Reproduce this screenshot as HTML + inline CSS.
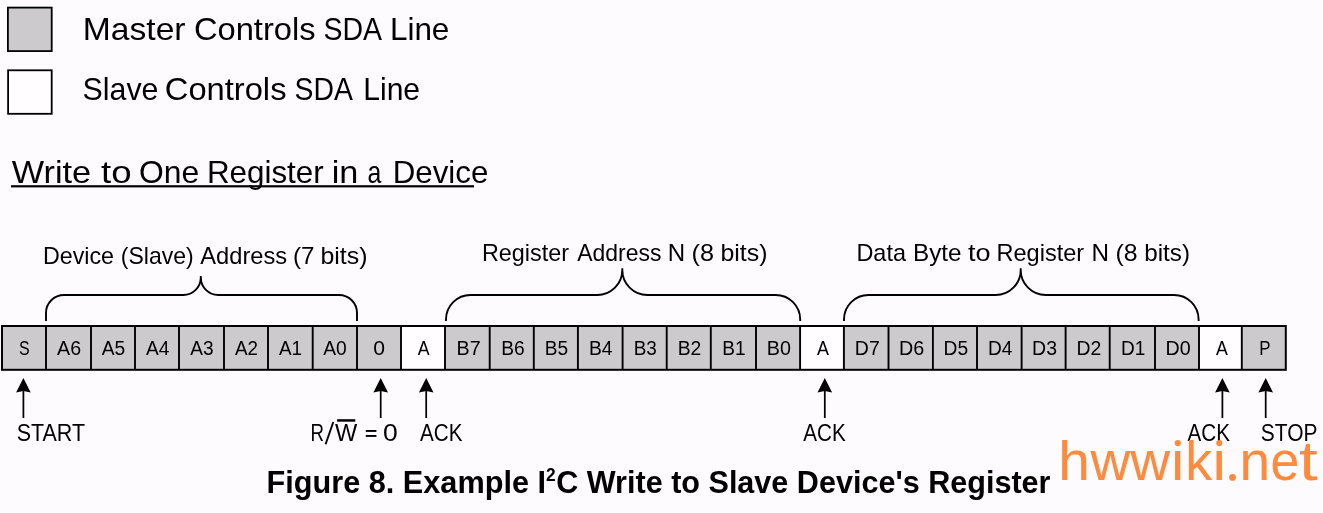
<!DOCTYPE html>
<html><head><meta charset="utf-8"><style>
html,body{margin:0;padding:0;background:#fdfbfd;width:1323px;height:513px;overflow:hidden}
svg{display:block;will-change:transform}
text{font-family:"Liberation Sans",sans-serif;fill:#000}
.c{font-size:19.7px}
</style></head><body>
<svg width="1323" height="513" viewBox="0 0 1323 513">
<rect x="7.9" y="7.6" width="43.8" height="43.5" fill="#cccacd" stroke="#000" stroke-width="1.8"/>
<rect x="8.1" y="70.3" width="43.6" height="43.5" fill="#fffdff" stroke="#000" stroke-width="1.8"/>
<rect x="11" y="185.2" width="463" height="2.2" fill="#000"/>
<path d="M46 321 L46 313 A18 18 0 0 1 64 295 L183.3 295 A17.5 17.5 0 0 0 200.8 277.5 L200.8 276 L200.8 277.5 A17.5 17.5 0 0 0 218.3 295 L339 295 A18 18 0 0 1 357 313 L357 321" fill="none" stroke="#000" stroke-width="1.9"/>
<path d="M446 321 L446 319.5 A24.5 24.5 0 0 1 470.5 295 L597.3 295 A25 25 0 0 0 622.3 270 L622.3 268.3 L622.3 270 A25 25 0 0 0 647.3 295 L775.7 295 A24.5 24.5 0 0 1 800.2 319.5 L800.2 321" fill="none" stroke="#000" stroke-width="1.9"/>
<path d="M844 321 L844 319.5 A24.5 24.5 0 0 1 868.5 295 L995.7 295 A25 25 0 0 0 1020.7 270 L1020.7 268.3 L1020.7 270 A25 25 0 0 0 1045.7 295 L1174.1 295 A24.5 24.5 0 0 1 1198.6 319.5 L1198.6 321" fill="none" stroke="#000" stroke-width="1.9"/>
<rect x="2.0" y="326" width="44.00" height="44" fill="#cccacd"/>
<rect x="46" y="326" width="45.00" height="44" fill="#cccacd"/>
<rect x="91" y="326" width="44.00" height="44" fill="#cccacd"/>
<rect x="135" y="326" width="44.00" height="44" fill="#cccacd"/>
<rect x="179" y="326" width="45.00" height="44" fill="#cccacd"/>
<rect x="224" y="326" width="44.00" height="44" fill="#cccacd"/>
<rect x="268" y="326" width="44.70" height="44" fill="#cccacd"/>
<rect x="312.7" y="326" width="44.30" height="44" fill="#cccacd"/>
<rect x="357" y="326" width="44.00" height="44" fill="#cccacd"/>
<rect x="401" y="326" width="44.00" height="44" fill="#fffdff"/>
<rect x="445" y="326" width="44.70" height="44" fill="#cccacd"/>
<rect x="489.7" y="326" width="44.10" height="44" fill="#cccacd"/>
<rect x="533.8" y="326" width="44.10" height="44" fill="#cccacd"/>
<rect x="577.9" y="326" width="44.70" height="44" fill="#cccacd"/>
<rect x="622.6" y="326" width="44.10" height="44" fill="#cccacd"/>
<rect x="666.7" y="326" width="44.10" height="44" fill="#cccacd"/>
<rect x="710.8" y="326" width="45.20" height="44" fill="#cccacd"/>
<rect x="756" y="326" width="44.10" height="44" fill="#cccacd"/>
<rect x="800.1" y="326" width="43.80" height="44" fill="#fffdff"/>
<rect x="843.9" y="326" width="44.60" height="44" fill="#cccacd"/>
<rect x="888.5" y="326" width="44.40" height="44" fill="#cccacd"/>
<rect x="932.9" y="326" width="44.10" height="44" fill="#cccacd"/>
<rect x="977" y="326" width="44.60" height="44" fill="#cccacd"/>
<rect x="1021.6" y="326" width="44.00" height="44" fill="#cccacd"/>
<rect x="1065.6" y="326" width="44.10" height="44" fill="#cccacd"/>
<rect x="1109.7" y="326" width="45.30" height="44" fill="#cccacd"/>
<rect x="1155" y="326" width="44.00" height="44" fill="#cccacd"/>
<rect x="1199" y="326" width="42.80" height="44" fill="#fffdff"/>
<rect x="1241.8" y="326" width="44.00" height="44" fill="#cccacd"/>
<rect x="2" y="326" width="1283.8" height="43.8" fill="none" stroke="#000" stroke-width="2"/>
<line x1="46" y1="326" x2="46" y2="370" stroke="#000" stroke-width="1.9"/>
<line x1="91" y1="326" x2="91" y2="370" stroke="#000" stroke-width="1.9"/>
<line x1="135" y1="326" x2="135" y2="370" stroke="#000" stroke-width="1.9"/>
<line x1="179" y1="326" x2="179" y2="370" stroke="#000" stroke-width="1.9"/>
<line x1="224" y1="326" x2="224" y2="370" stroke="#000" stroke-width="1.9"/>
<line x1="268" y1="326" x2="268" y2="370" stroke="#000" stroke-width="1.9"/>
<line x1="312.7" y1="326" x2="312.7" y2="370" stroke="#000" stroke-width="1.9"/>
<line x1="357" y1="326" x2="357" y2="370" stroke="#000" stroke-width="1.9"/>
<line x1="401" y1="326" x2="401" y2="370" stroke="#000" stroke-width="1.9"/>
<line x1="445" y1="326" x2="445" y2="370" stroke="#000" stroke-width="1.9"/>
<line x1="489.7" y1="326" x2="489.7" y2="370" stroke="#000" stroke-width="1.9"/>
<line x1="533.8" y1="326" x2="533.8" y2="370" stroke="#000" stroke-width="1.9"/>
<line x1="577.9" y1="326" x2="577.9" y2="370" stroke="#000" stroke-width="1.9"/>
<line x1="622.6" y1="326" x2="622.6" y2="370" stroke="#000" stroke-width="1.9"/>
<line x1="666.7" y1="326" x2="666.7" y2="370" stroke="#000" stroke-width="1.9"/>
<line x1="710.8" y1="326" x2="710.8" y2="370" stroke="#000" stroke-width="1.9"/>
<line x1="756" y1="326" x2="756" y2="370" stroke="#000" stroke-width="1.9"/>
<line x1="800.1" y1="326" x2="800.1" y2="370" stroke="#000" stroke-width="1.9"/>
<line x1="843.9" y1="326" x2="843.9" y2="370" stroke="#000" stroke-width="1.9"/>
<line x1="888.5" y1="326" x2="888.5" y2="370" stroke="#000" stroke-width="1.9"/>
<line x1="932.9" y1="326" x2="932.9" y2="370" stroke="#000" stroke-width="1.9"/>
<line x1="977" y1="326" x2="977" y2="370" stroke="#000" stroke-width="1.9"/>
<line x1="1021.6" y1="326" x2="1021.6" y2="370" stroke="#000" stroke-width="1.9"/>
<line x1="1065.6" y1="326" x2="1065.6" y2="370" stroke="#000" stroke-width="1.9"/>
<line x1="1109.7" y1="326" x2="1109.7" y2="370" stroke="#000" stroke-width="1.9"/>
<line x1="1155" y1="326" x2="1155" y2="370" stroke="#000" stroke-width="1.9"/>
<line x1="1199" y1="326" x2="1199" y2="370" stroke="#000" stroke-width="1.9"/>
<line x1="1241.8" y1="326" x2="1241.8" y2="370" stroke="#000" stroke-width="1.9"/>
<text x="18.89" y="354.8" font-size="19.7" textLength="10.63" lengthAdjust="spacingAndGlyphs">S</text>
<text x="57.1" y="354.8" font-size="19.7" textLength="24.04" lengthAdjust="spacingAndGlyphs">A6</text>
<text x="101.8" y="354.8" font-size="19.7" textLength="23.52" lengthAdjust="spacingAndGlyphs">A5</text>
<text x="145.9" y="354.8" font-size="19.7" textLength="23.38" lengthAdjust="spacingAndGlyphs">A4</text>
<text x="190.2" y="354.8" font-size="19.7" textLength="23.32" lengthAdjust="spacingAndGlyphs">A3</text>
<text x="234.9" y="354.8" font-size="19.7" textLength="23.05" lengthAdjust="spacingAndGlyphs">A2</text>
<text x="279.0" y="354.8" font-size="19.7" textLength="23.15" lengthAdjust="spacingAndGlyphs">A1</text>
<text x="323.3" y="354.8" font-size="19.7" textLength="23.52" lengthAdjust="spacingAndGlyphs">A0</text>
<text x="373.39" y="354.8" font-size="19.7" textLength="11.76" lengthAdjust="spacingAndGlyphs">0</text>
<text x="417.7" y="354.8" font-size="19.7" textLength="11.83" lengthAdjust="spacingAndGlyphs">A</text>
<text x="456.6" y="354.8" font-size="19.7" textLength="24.09" lengthAdjust="spacingAndGlyphs">B7</text>
<text x="501.24" y="354.8" font-size="19.7" textLength="23.48" lengthAdjust="spacingAndGlyphs">B6</text>
<text x="544.84" y="354.8" font-size="19.7" textLength="23.37" lengthAdjust="spacingAndGlyphs">B5</text>
<text x="588.93" y="354.8" font-size="19.7" textLength="23.55" lengthAdjust="spacingAndGlyphs">B4</text>
<text x="633.76" y="354.8" font-size="19.7" textLength="23.15" lengthAdjust="spacingAndGlyphs">B3</text>
<text x="677.73" y="354.8" font-size="19.7" textLength="23.65" lengthAdjust="spacingAndGlyphs">B2</text>
<text x="722.25" y="354.8" font-size="19.7" textLength="23.31" lengthAdjust="spacingAndGlyphs">B1</text>
<text x="766.8" y="354.8" font-size="19.7" textLength="24.15" lengthAdjust="spacingAndGlyphs">B0</text>
<text x="816.9" y="354.8" font-size="19.7" textLength="11.93" lengthAdjust="spacingAndGlyphs">A</text>
<text x="854.82" y="354.8" font-size="19.7" textLength="24.9" lengthAdjust="spacingAndGlyphs">D7</text>
<text x="899.0" y="354.8" font-size="19.7" textLength="25.23" lengthAdjust="spacingAndGlyphs">D6</text>
<text x="943.54" y="354.8" font-size="19.7" textLength="24.56" lengthAdjust="spacingAndGlyphs">D5</text>
<text x="987.95" y="354.8" font-size="19.7" textLength="24.41" lengthAdjust="spacingAndGlyphs">D4</text>
<text x="1032.12" y="354.8" font-size="19.7" textLength="24.9" lengthAdjust="spacingAndGlyphs">D3</text>
<text x="1076.42" y="354.8" font-size="19.7" textLength="24.78" lengthAdjust="spacingAndGlyphs">D2</text>
<text x="1121.05" y="354.8" font-size="19.7" textLength="24.34" lengthAdjust="spacingAndGlyphs">D1</text>
<text x="1165.5" y="354.8" font-size="19.7" textLength="25.12" lengthAdjust="spacingAndGlyphs">D0</text>
<text x="1216.1" y="354.8" font-size="19.7" textLength="11.83" lengthAdjust="spacingAndGlyphs">A</text>
<text x="1259.31" y="354.8" font-size="19.7" textLength="11.26" lengthAdjust="spacingAndGlyphs">P</text>
<path d="M23.4 377.9 L30.7 392.4 L23.4 391 L16.099999999999998 392.4 Z" fill="#000"/><line x1="23.4" y1="390" x2="23.4" y2="418" stroke="#000" stroke-width="1.75"/>
<path d="M380.7 377.9 L388.0 392.4 L380.7 391 L373.4 392.4 Z" fill="#000"/><line x1="380.7" y1="390" x2="380.7" y2="418" stroke="#000" stroke-width="1.75"/>
<path d="M426.2 377.9 L433.5 392.4 L426.2 391 L418.9 392.4 Z" fill="#000"/><line x1="426.2" y1="390" x2="426.2" y2="418" stroke="#000" stroke-width="1.75"/>
<path d="M824.8 377.9 L832.0999999999999 392.4 L824.8 391 L817.5 392.4 Z" fill="#000"/><line x1="824.8" y1="390" x2="824.8" y2="418" stroke="#000" stroke-width="1.75"/>
<path d="M1222.4 377.9 L1229.7 392.4 L1222.4 391 L1215.1000000000001 392.4 Z" fill="#000"/><line x1="1222.4" y1="390" x2="1222.4" y2="418" stroke="#000" stroke-width="1.75"/>
<path d="M1265.7 377.9 L1273.0 392.4 L1265.7 391 L1258.4 392.4 Z" fill="#000"/><line x1="1265.7" y1="390" x2="1265.7" y2="418" stroke="#000" stroke-width="1.75"/>
<rect x="337.1" y="419.2" width="18.2" height="2.5" fill="#000"/>
<text x="82.81" y="40" font-size="32" textLength="102.76" lengthAdjust="spacingAndGlyphs">Master</text>
<text x="193.91" y="40" font-size="32" textLength="121.67" lengthAdjust="spacingAndGlyphs">Controls</text>
<text x="323.46" y="40" font-size="32" textLength="58.58" lengthAdjust="spacingAndGlyphs">SDA</text>
<text x="389.9" y="40" font-size="32" textLength="59.48" lengthAdjust="spacingAndGlyphs">Line</text>
<text x="82.58" y="99.6" font-size="32" textLength="75.89" lengthAdjust="spacingAndGlyphs">Slave</text>
<text x="164.81" y="99.6" font-size="32" textLength="121.67" lengthAdjust="spacingAndGlyphs">Controls</text>
<text x="294.57" y="99.6" font-size="32" textLength="58.27" lengthAdjust="spacingAndGlyphs">SDA</text>
<text x="363.21" y="99.6" font-size="32" textLength="56.9" lengthAdjust="spacingAndGlyphs">Line</text>
<text x="11.73" y="182.8" font-size="31.5" textLength="79.42" lengthAdjust="spacingAndGlyphs">Write</text>
<text x="101.12" y="182.8" font-size="31.5" textLength="30.57" lengthAdjust="spacingAndGlyphs">to</text>
<text x="139.08" y="182.8" font-size="31.5" textLength="60.18" lengthAdjust="spacingAndGlyphs">One</text>
<text x="206.91" y="182.8" font-size="31.5" textLength="116.83" lengthAdjust="spacingAndGlyphs">Register</text>
<text x="331.72" y="182.8" font-size="31.5" textLength="26.69" lengthAdjust="spacingAndGlyphs">in</text>
<text x="367.62" y="182.8" font-size="31.5" textLength="13.81" lengthAdjust="spacingAndGlyphs">a</text>
<text x="392.72" y="182.8" font-size="31.5" textLength="95.62" lengthAdjust="spacingAndGlyphs">Device</text>
<text x="42.96" y="263.8" font-size="24.0" textLength="71.11" lengthAdjust="spacingAndGlyphs">Device</text>
<text x="120.86" y="263.8" font-size="24.0" textLength="72.91" lengthAdjust="spacingAndGlyphs">(Slave)</text>
<text x="200.3" y="263.8" font-size="24.0" textLength="86.79" lengthAdjust="spacingAndGlyphs">Address</text>
<text x="292.99" y="263.8" font-size="24.0" textLength="21.51" lengthAdjust="spacingAndGlyphs">(7</text>
<text x="320.44" y="263.8" font-size="24.0" textLength="47.01" lengthAdjust="spacingAndGlyphs">bits)</text>
<text x="481.95" y="260.8" font-size="24.0" textLength="87.01" lengthAdjust="spacingAndGlyphs">Register</text>
<text x="577.3" y="260.8" font-size="24.0" textLength="84.16" lengthAdjust="spacingAndGlyphs">Address</text>
<text x="667.79" y="260.8" font-size="24.0" textLength="17.41" lengthAdjust="spacingAndGlyphs">N</text>
<text x="691.62" y="260.8" font-size="24.0" textLength="22.43" lengthAdjust="spacingAndGlyphs">(8</text>
<text x="720.44" y="260.8" font-size="24.0" textLength="47.01" lengthAdjust="spacingAndGlyphs">bits)</text>
<text x="856.45" y="260.8" font-size="24.0" textLength="49.51" lengthAdjust="spacingAndGlyphs">Data</text>
<text x="912.98" y="260.8" font-size="24.0" textLength="48.56" lengthAdjust="spacingAndGlyphs">Byte</text>
<text x="968.12" y="260.8" font-size="24.0" textLength="22.52" lengthAdjust="spacingAndGlyphs">to</text>
<text x="996.54" y="260.8" font-size="24.0" textLength="87.63" lengthAdjust="spacingAndGlyphs">Register</text>
<text x="1091.58" y="260.8" font-size="24.0" textLength="17.54" lengthAdjust="spacingAndGlyphs">N</text>
<text x="1115.55" y="260.8" font-size="24.0" textLength="22.08" lengthAdjust="spacingAndGlyphs">(8</text>
<text x="1144.29" y="260.8" font-size="24.0" textLength="45.72" lengthAdjust="spacingAndGlyphs">bits)</text>
<text x="16.7" y="440.7" font-size="24.4" textLength="68.4" lengthAdjust="spacingAndGlyphs">START</text>
<text x="310.47" y="441.0" font-size="24.4" textLength="13.49" lengthAdjust="spacingAndGlyphs">R</text>
<text x="334.96" y="441.0" font-size="24.4" textLength="22.27" lengthAdjust="spacingAndGlyphs">W</text>
<line x1="325.6" y1="444.3" x2="333.3" y2="422.0" stroke="#000" stroke-width="1.9"/>
<rect x="365.8" y="430.0" width="10.6" height="1.9" fill="#000"/><rect x="365.8" y="435.0" width="10.6" height="1.9" fill="#000"/>
<text x="382.91" y="441.0" font-size="24.4" textLength="14.76" lengthAdjust="spacingAndGlyphs">0</text>
<text x="420.1" y="441.2" font-size="24.4" textLength="42.44" lengthAdjust="spacingAndGlyphs">ACK</text>
<text x="803.3" y="441.2" font-size="24.4" textLength="42.44" lengthAdjust="spacingAndGlyphs">ACK</text>
<text x="1187.5" y="441.2" font-size="24.4" textLength="42.44" lengthAdjust="spacingAndGlyphs">ACK</text>
<text x="1260.83" y="441.2" font-size="24.4" textLength="56.72" lengthAdjust="spacingAndGlyphs">STOP</text>
<text x="266.5" y="493.1" font-size="30.6" textLength="279.5" lengthAdjust="spacingAndGlyphs" font-weight="bold">Figure 8. Example I</text>
<text x="545.88" y="480.8" font-size="18" textLength="9.66" lengthAdjust="spacingAndGlyphs" font-weight="bold">2</text>
<text x="556.25" y="493.1" font-size="30.6" textLength="494.22" lengthAdjust="spacingAndGlyphs" font-weight="bold">C Write to Slave Device&#39;s Register</text>
<text x="1058.15" y="480.4" font-size="55.5" textLength="31.66" lengthAdjust="spacingAndGlyphs" style="fill:#fe8b3d">h</text>
<text x="1090.4" y="480.4" font-size="55.5" textLength="79.72" lengthAdjust="spacingAndGlyphs" style="fill:#fe8b3d">ww</text>
<text x="1169.53" y="480.4" font-size="55.5" textLength="16.35" lengthAdjust="spacingAndGlyphs" style="fill:#fe8b3d">ı</text>
<text x="1185.26" y="480.4" font-size="55.5" textLength="26.94" lengthAdjust="spacingAndGlyphs" style="fill:#fe8b3d">k</text>
<text x="1210.82" y="480.4" font-size="55.5" textLength="16.96" lengthAdjust="spacingAndGlyphs" style="fill:#fe8b3d">ı</text>
<text x="1239.48" y="480.4" font-size="55.5" textLength="30.61" lengthAdjust="spacingAndGlyphs" style="fill:#fe8b3d">n</text>
<text x="1270.4" y="480.4" font-size="55.5" textLength="28.82" lengthAdjust="spacingAndGlyphs" style="fill:#fe8b3d">e</text>
<text x="1299.09" y="480.4" font-size="55.5" textLength="18.72" lengthAdjust="spacingAndGlyphs" style="fill:#fe8b3d">t</text><circle cx="1177.8" cy="443.1" r="3.1" fill="#fe8b3d"/><circle cx="1219.3" cy="443.1" r="3.1" fill="#fe8b3d"/><circle cx="1232.5" cy="477.4" r="3.4" fill="#fe8b3d"/>
</svg>
</body></html>
